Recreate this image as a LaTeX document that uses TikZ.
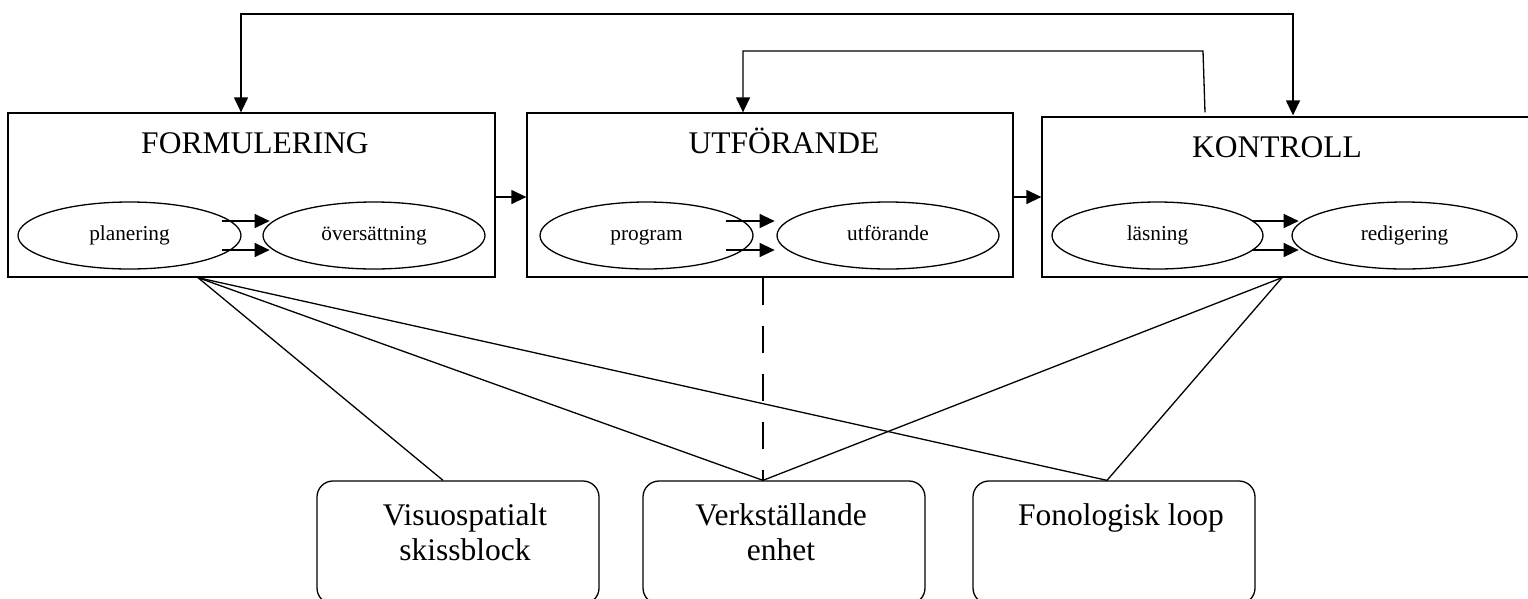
\documentclass[tikz,border=0pt]{standalone}
\usepackage{fontspec}
\setmainfont{Liberation Serif}
\usetikzlibrary{arrows.meta,shapes.geometric}
\begin{document}
\begin{tikzpicture}[x=1pt,y=-1pt,line width=1.3pt,
  box/.style={draw, rectangle, inner sep=0pt},
  ell/.style={draw, ellipse, inner sep=0pt, minimum height=67pt, text height=14pt, text depth=5pt, font=\fontsize{21.3}{24}\selectfont},
  title/.style={anchor=base, inner sep=0pt, font=\fontsize{31.5}{35}\selectfont},
  memo/.style={draw, rectangle, rounded corners=16pt, inner sep=0pt, minimum width=282pt, minimum height=123pt},
  memotext/.style={anchor=base, inner sep=0pt, align=center, font=\fontsize{31.5}{35}\selectfont},
  arr/.style={-{Triangle[length=15pt,width=14pt]}},
  dbl/.style={{Triangle[length=15pt,width=14pt]}-{Triangle[length=15pt,width=14pt]}},
  link/.style={line width=1.3pt},
  dashlink/.style={line width=1.3pt, dash pattern=on 27.5pt off 20.5pt}
]
\useasboundingbox (0,0) rectangle (1528,598);
\clip (0,0) rectangle (1528,598);

% main boxes
\node[box, minimum width=487pt, minimum height=164pt] (F) at (251.5,195) {};
\node[box, minimum width=486pt, minimum height=164pt] (U) at (770,195) {};
\node[box, minimum width=488pt, minimum height=160pt] (K) at (1286,197) {};

\node[title] (Ft) at (255,153) {FORMULERING};
\node[title] (Ut) at (784,153) {UTFÖRANDE};
\node[title] (Kt) at (1277,157) {KONTROLL};

% ellipses
\node[ell, minimum width=223pt] (pl) at (129.5,235.5) {planering};
\node[ell, minimum width=222pt] (ov) at (374,235.5) {översättning};
\node[ell, minimum width=213pt] (pg) at (646.5,235.5) {program};
\node[ell, minimum width=222pt] (ut) at (888,235.5) {utförande};
\node[ell, minimum width=211pt] (ls) at (1157.5,235.5) {läsning};
\node[ell, minimum width=225pt] (rd) at (1404.5,235.5) {redigering};

% inner arrows
\draw[arr] (pl.east) ++(-20,-14.5) -- ++(48,0);
\draw[arr] (pl.east) ++(-20,14.5) -- ++(48,0);
\draw[arr] (pg.east) ++(-28,-14.5) -- ++(49,0);
\draw[arr] (pg.east) ++(-28,14.5) -- ++(49,0);
\draw[arr] (ls.east) ++(-11,-14.5) -- ++(46,0);
\draw[arr] (ls.east) ++(-11,14.5) -- ++(46,0);

% arrows between boxes
\draw[arr] ([yshift=-2pt]F.east) -- ([yshift=-2pt]F.east -| U.west);
\draw[arr] (U.east |- K.west) -- (K.west);

% feedback loops
\coordinate (t1) at (241,14);
\coordinate (t2) at (1293,14);
\draw[dbl] ([xshift=-10.5pt]F.north) -- (t1) -- (t2) -- ([xshift=7pt,yshift=1pt]K.north);
\coordinate (s1) at (1203,51);
\coordinate (s2) at (743,51);
\draw[arr] ([xshift=-81pt,yshift=4pt]K.north) -- (s1) -- (s2) -- ([xshift=-27pt]U.north);

% bottom boxes
\node[memo] (VS) at (458,542.5) {};
\node[memo] (VE) at (784,542.5) {};
\node[memo] (FL) at (1114,542.5) {};
\node[memotext] (VSt) at (465,560) {Visuospatialt\\skissblock};
\node[memotext] (VEt) at (781,560) {Verkställande\\enhet};
\node[memotext] (FLt) at (1121,525) {Fonologisk loop};

% attachment points
\coordinate (fb) at ([xshift=-53.5pt]F.south);
\coordinate (kb) at ([xshift=-4pt]K.south);
\coordinate (vs) at ([xshift=-15pt]VS.north);
\coordinate (ve) at ([xshift=-21pt]VE.north);
\coordinate (fl) at ([xshift=-7pt]FL.north);

\draw[link] (fb) -- (vs);
\draw[link] (fb) -- (ve);
\draw[link] (fb) -- (fl);
\draw[link] (kb) -- (ve);
\draw[link] (kb) -- (fl);
\draw[dashlink] (U.south -| ve) -- (ve);
\end{tikzpicture}
\end{document}
